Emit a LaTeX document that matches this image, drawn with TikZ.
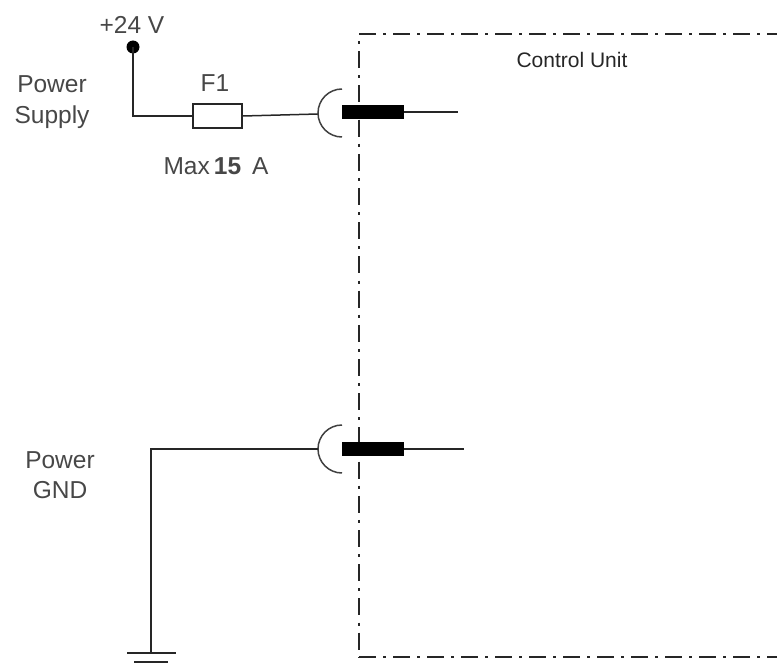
\documentclass[tikz,border=0pt]{standalone}
\usepackage{fontspec}
\setmainfont{Liberation Sans}
\tikzset{
  x=1pt,y=-1pt,
  wire/.style={line width=1.5pt,black!85},
  frame/.style={line width=1.6pt,black!85,dash pattern=on 17pt off 7pt on 3pt off 7pt},
  framev/.style={line width=1.6pt,black!85,dash pattern=on 17pt off 7.1pt on 3pt off 7.1pt,dash phase=17pt},
  lbl/.style={inner sep=0pt,text=black!72,font=\fontsize{24.5}{24.5}\selectfont,align=center},
  cup/.style={line width=1.5pt,black!75},
  pin/.style={draw=none,fill=black,minimum width=62pt,minimum height=14pt,inner sep=0pt},
  fuse/.style={draw=black!85,line width=1.5pt,fill=white,minimum width=49pt,minimum height=24pt,inner sep=0pt},
  dot/.style={circle,fill=black,minimum size=13pt,inner sep=0pt}
}
\begin{document}
\begin{tikzpicture}
\useasboundingbox (0,0) rectangle (777,666);
% frame of the control unit
\coordinate (tl) at (359,34);
\coordinate (tr) at (777,34);
\coordinate (bl) at (359,657);
\coordinate (br) at (777,657);
\draw[frame] (tl) -- (tr);
\draw[framev] (tl) -- (bl);
\draw[frame] (bl) -- (br);
% upper connection
\node[dot] (vdot) at (133,47) {};
\node[fuse] (f1) at (217.5,116) {};
\coordinate (cupa) at (318,114);
\coordinate (cornera) at (133,116);
\coordinate (enda) at (458,112);
\draw[wire] (vdot.center) -- (cornera) -- (f1.west);
\draw[wire] (f1.east) -- (cupa);
\draw[cup] (342,89) arc[start angle=90,end angle=270,x radius=24,y radius=-24];
\node[pin,anchor=west] (pina) at (342,112) {};
\draw[wire] (pina.east) -- (enda);
% lower connection
\coordinate (cupb) at (318,449);
\coordinate (cornerb) at (151,449);
\coordinate (gnd) at (151,653);
\draw[cup] (342,425) arc[start angle=90,end angle=270,x radius=24,y radius=-24];
\node[pin,anchor=west] (pinb) at (342,449) {};
\coordinate (endb) at (464,449);
\draw[wire] (cupb) -- (cornerb) -- (gnd);
\draw[wire] (pinb.east) -- (endb);
\coordinate (g1l) at (127,653);
\coordinate (g1r) at (176,653);
\coordinate (g2l) at (134,662);
\coordinate (g2r) at (168,662);
\draw[wire] (g1l) -- (g1r);
\draw[wire] (g2l) -- (g2r);
% labels
\node[lbl] (t24) at (132,25) {+24 V};
\node[lbl] (tps) at (52,102) {Power\\[6pt]Supply};
\node[lbl] (tf1) at (215,83) {F1};
\node[lbl] (tmax) at (216,166) {Max\,\textbf{15}\, A};
\node[lbl,font=\fontsize{21}{21}\selectfont,text=black!85] (tcu) at (572,60) {Control Unit};
\node[lbl] (tgnd) at (60,475) {Power\\[6pt]GND};
\end{tikzpicture}
\end{document}
